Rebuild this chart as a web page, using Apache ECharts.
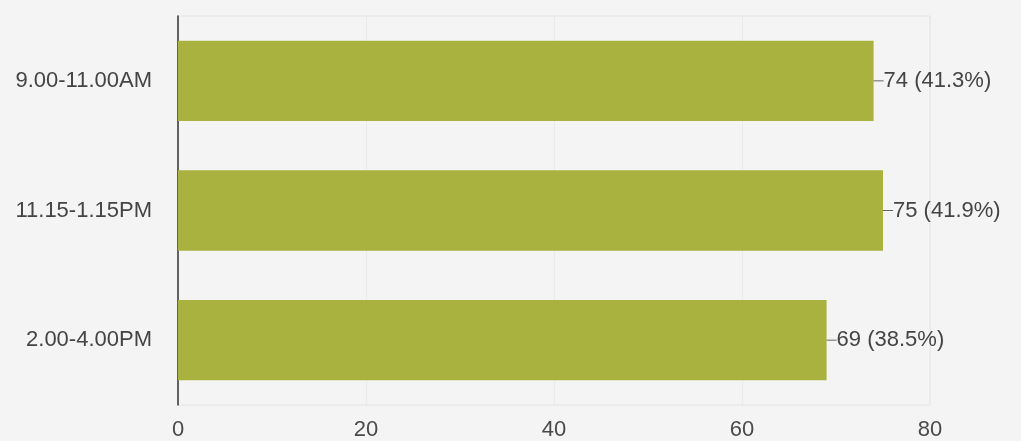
<!DOCTYPE html>
<html>
<head>
<meta charset="utf-8">
<script src="https://cdn.jsdelivr.net/npm/echarts@6/dist/echarts.min.js"></script>
<style>
html,body{margin:0;padding:0;background:#f4f4f5;}
#c{width:1021px;height:441px;}
</style>
</head>
<body>
<div id="c"></div>
<script>
var categories = ['9.00-11.00AM', '11.15-1.15PM', '2.00-4.00PM'];
var counts = [74, 75, 69];
var percents = ['41.3%', '41.9%', '38.5%'];
var xTicks = [0, 20, 40, 60, 80];

var chart = echarts.init(document.getElementById('c'));
chart.setOption({
  backgroundColor: '#f4f4f5',
  animation: false,
  grid: {left: 178, right: 91, top: 16, bottom: 35, show: true, borderColor: '#e4e4e6', borderWidth: 1, backgroundColor: 'transparent'},
  xAxis: {
    type: 'value', min: 0, max: 80, interval: 20,
    axisLine: {show: false}, axisTick: {show: false},
    splitLine: {show: true, lineStyle: {color: '#eaeaec', width: 1}},
    axisLabel: {color: '#4a4a4a', fontSize: 22, fontFamily: 'Liberation Sans, Arial', margin: 14,
      formatter: function (v) { return xTicks.indexOf(v) >= 0 ? String(v) : ''; }}
  },
  yAxis: {
    type: 'category', data: categories, inverse: true,
    axisLine: {show: true, lineStyle: {color: '#333', width: 1.5}},
    axisTick: {show: false},
    axisLabel: {color: '#444', fontSize: 22, fontFamily: 'Liberation Sans, Arial', margin: 26}
  },
  series: [{
    type: 'bar',
    data: counts,
    barCategoryGap: '38%',
    itemStyle: {color: '#a9b23e'},
    label: {
      show: true, position: 'right', distance: 0,
      fontSize: 22, fontFamily: 'Liberation Sans, Arial', color: '#444',
      formatter: function (p) { return '{ln|}{t|' + p.value + ' (' + percents[p.dataIndex] + ')}'; },
      rich: {
        ln: {width: 10, height: 1, backgroundColor: '#666', verticalAlign: 'middle'},
        t: {fontSize: 22, color: '#444', fontFamily: 'Liberation Sans, Arial'}
      }
    }
  }]
});
</script>
</body>
</html>
